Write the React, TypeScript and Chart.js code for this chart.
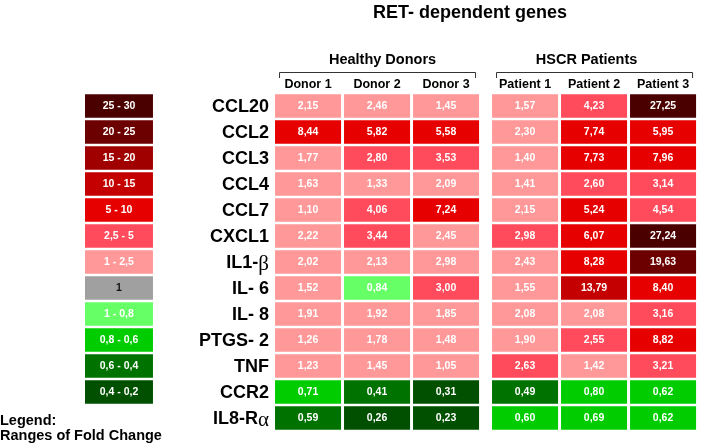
import React, { useEffect, useRef } from "react";
import { Chart, registerables } from "chart.js";

Chart.register(...registerables);

// ---------- data ----------
const genes = ["CCL20", "CCL2", "CCL3", "CCL4", "CCL7", "CXCL1", "IL1-β", "IL- 6", "IL- 8", "PTGS- 2", "TNF", "CCR2", "IL8-Rα"];
const donorLabels = ["Donor 1", "Donor 2", "Donor 3"];
const patientLabels = ["Patient 1", "Patient 2", "Patient 3"];
const groupLabels = ["Healthy Donors", "HSCR Patients"];
const chartTitle = "RET- dependent genes";

const donor1 = [2.15, 8.44, 1.77, 1.63, 1.1, 2.22, 2.02, 1.52, 1.91, 1.26, 1.23, 0.71, 0.59];
const donor2 = [2.46, 5.82, 2.8, 1.33, 4.06, 3.44, 2.13, 0.84, 1.92, 1.78, 1.45, 0.41, 0.26];
const donor3 = [1.45, 5.58, 3.53, 2.09, 7.24, 2.45, 2.98, 3.0, 1.85, 1.48, 1.05, 0.31, 0.23];
const patient1 = [1.57, 2.3, 1.4, 1.41, 2.15, 2.98, 2.43, 1.55, 2.08, 1.9, 2.63, 0.49, 0.6];
const patient2 = [4.23, 7.74, 7.73, 2.6, 5.24, 6.07, 8.28, 13.79, 2.08, 2.55, 1.42, 0.8, 0.69];
const patient3 = [27.25, 5.95, 7.96, 3.14, 4.54, 27.24, 19.63, 8.4, 3.16, 8.82, 3.21, 0.62, 0.62];

// legend range (index into legendRanges) that each cell is coloured with in the figure
const donor1Bins = [6, 4, 6, 6, 6, 6, 6, 6, 6, 6, 6, 9, 10];
const donor2Bins = [6, 4, 5, 6, 5, 5, 6, 8, 6, 6, 6, 10, 11];
const donor3Bins = [6, 4, 5, 6, 4, 6, 6, 5, 6, 6, 6, 11, 11];
const patient1Bins = [6, 6, 6, 6, 6, 5, 6, 6, 6, 6, 5, 10, 9];
const patient2Bins = [5, 4, 4, 5, 4, 4, 4, 3, 6, 5, 6, 9, 9];
const patient3Bins = [0, 4, 4, 5, 5, 0, 1, 4, 5, 4, 5, 9, 9];

const legendRanges = ["25 - 30", "20 - 25", "15 - 20", "10 - 15", "5 - 10", "2,5 - 5", "1 - 2,5", "1", "1 - 0,8", "0,8 - 0,6", "0,6 - 0,4", "0,4 - 0,2"];
const legendTitle = ["Legend:", "Ranges of Fold Change"];

// ---------- styles ----------
const rangeColors = ["#4b0000", "#6c0000", "#a00000", "#c40000", "#e60000", "#ff4b5b", "#ff9999", "#a0a0a0", "#66ff66", "#00cc00", "#007200", "#005000"];
const SANS = '"Liberation Sans", Arial, Helvetica, sans-serif';
const SERIF = '"Liberation Serif", "DejaVu Serif", serif';

// layout (x unit = one column pitch)
const X_MIN = -2.754;
const X_MAX = 6.159;
const CELL_W = 0.957;
const LEGEND_X = -2.754;
const LEGEND_W = 0.985;
const GROUP_GAP = 0.145;

const fmt = (v: number) => v.toFixed(2).replace(".", ",");

export default function App() {
  const ref = useRef<HTMLCanvasElement>(null);

  useEffect(() => {
    if (!ref.current) return;
    const columns = [donor1, donor2, donor3, patient1, patient2, patient3];
    const columnBins = [donor1Bins, donor2Bins, donor3Bins, patient1Bins, patient2Bins, patient3Bins];
    const colStart = (c: number) => c + (c >= 3 ? GROUP_GAP : 0);

    const datasets: any[] = [];
    datasets.push({
      label: "legend",
      data: legendRanges.map(() => [LEGEND_X, LEGEND_X + LEGEND_W]),
      backgroundColor: legendRanges.map((_, i) => rangeColors[i]),
    });
    columns.forEach((vals, c) => {
      const s = colStart(c);
      datasets.push({
        label: [...donorLabels, ...patientLabels][c],
        data: vals.map(() => [s, s + CELL_W]),
        backgroundColor: columnBins[c].map((b) => rangeColors[b]),
      });
    });

    const texts = [legendRanges, ...columns.map((v) => v.map(fmt))];
    const textColors = [legendRanges.map((_, i) => (i === 7 ? "#111" : "#fff")), ...columns.map((v) => v.map(() => "#fff"))];

    const annot = {
      id: "annot",
      afterDatasetsDraw(chart: any) {
        const ctx = chart.ctx;
        const xs = chart.scales.x;
        const ys = chart.scales.y;
        ctx.save();
        // cell texts
        ctx.font = `bold 10.5px ${SANS}`;
        ctx.textAlign = "center";
        ctx.textBaseline = "middle";
        chart.data.datasets.forEach((_: any, di: number) => {
          const meta = chart.getDatasetMeta(di);
          meta.data.forEach((el: any, i: number) => {
            const p = el.getProps(["x", "y", "base"], true);
            ctx.fillStyle = textColors[di][i];
            ctx.fillText(texts[di][i], (p.x + p.base) / 2, p.y + 0.5);
          });
        });

        // gene labels
        const right = xs.getPixelForValue(0) - 6;
        genes.forEach((g, i) => {
          const y = ys.getPixelForValue(i) + 1;
          const last = g.slice(-1);
          const greek = /[α-ω]/.test(last);
          ctx.textBaseline = "middle";
          ctx.textAlign = "left";
          if (greek) {
            const pre = g.slice(0, -1);
            ctx.font = `bold 18px ${SANS}`;
            const w1 = ctx.measureText(pre).width;
            ctx.font = `21px ${SERIF}`;
            const w2 = ctx.measureText(last).width;
            ctx.fillStyle = "#000";
            ctx.font = `bold 18px ${SANS}`;
            ctx.fillText(pre, right - w1 - w2, y);
            ctx.font = `21px ${SERIF}`;
            ctx.fillText(last, right - w2, y + 1);
          } else {
            ctx.font = `bold 18px ${SANS}`;
            ctx.fillStyle = "#000";
            ctx.textAlign = "right";
            ctx.fillText(g, right, y);
          }
        });

        // column labels
        ctx.fillStyle = "#000";
        ctx.font = `bold 12.5px ${SANS}`;
        ctx.textAlign = "center";
        ctx.textBaseline = "alphabetic";
        [...donorLabels, ...patientLabels].forEach((lab, c) => {
          const cx = xs.getPixelForValue(colStart(c) + CELL_W / 2);
          ctx.fillText(lab, cx, 88);
        });

        // brackets and group labels
        const groups = [
          [0, 2],
          [3, 5],
        ];
        const headerShift = [5, -8];
        ctx.strokeStyle = "#333";
        ctx.lineWidth = 1;
        groups.forEach(([a, b], gi) => {
          const l = xs.getPixelForValue(colStart(a)) + 4.5;
          const r = xs.getPixelForValue(colStart(b) + CELL_W) - 3.5;
          ctx.beginPath();
          ctx.moveTo(l, 78);
          ctx.lineTo(l, 72.5);
          ctx.lineTo(r, 72.5);
          ctx.lineTo(r, 78);
          ctx.stroke();
          ctx.font = `bold 14.5px ${SANS}`;
          ctx.fillText(groupLabels[gi], (l + r) / 2 + headerShift[gi], 64);
        });

        // title
        ctx.font = `bold 18px ${SANS}`;
        ctx.fillText(chartTitle, 470, 18);

        // legend title
        ctx.textAlign = "left";
        ctx.font = `bold 14.5px ${SANS}`;
        ctx.fillText(legendTitle[0], 0, 425);
        ctx.fillText(legendTitle[1], 0, 440);
        ctx.restore();
      },
    };

    const chart = new Chart(ref.current, {
      type: "bar",
      data: { labels: genes, datasets },
      options: {
        indexAxis: "y",
        responsive: false,
        animation: false,
        devicePixelRatio: 1,
        layout: { padding: { left: 85, right: 2, top: 93, bottom: 13 } },
        plugins: {
          legend: { display: false },
          tooltip: { enabled: false },
          title: { display: false },
        },
        scales: {
          x: { type: "linear", display: false, min: X_MIN, max: X_MAX },
          y: { type: "category", display: false, offset: true },
        },
        datasets: {
          bar: { grouped: false, barPercentage: 0.9, categoryPercentage: 1, borderWidth: 0 },
        },
      } as any,
      plugins: [annot],
    });
    return () => chart.destroy();
  }, []);

  return (
    <div style={{ position: "absolute", left: 0, top: 0, width: 702, height: 444, background: "#fff" }}>
      <canvas ref={ref} width={702} height={444} />
    </div>
  );
}
